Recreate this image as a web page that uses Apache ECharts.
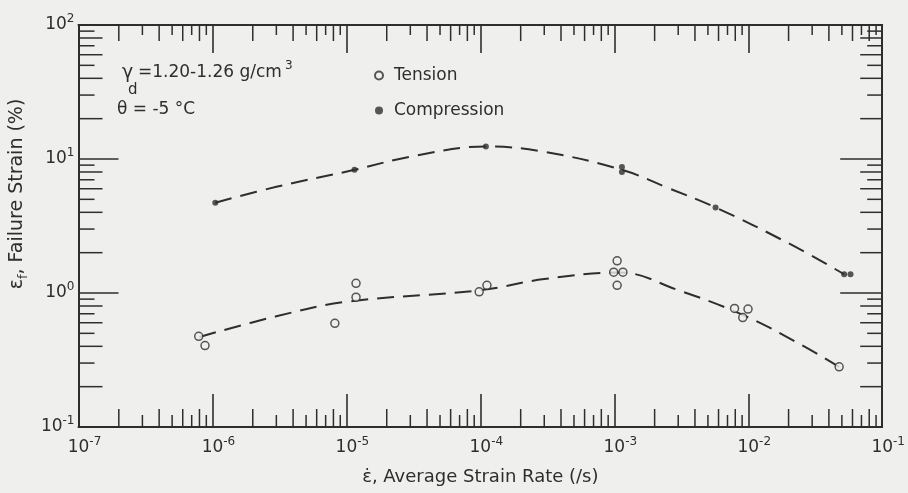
<!DOCTYPE html>
<html>
<head>
<meta charset="utf-8">
<script src="https://cdn.jsdelivr.net/npm/echarts@6/dist/echarts.min.js"></script>
<style>
html,body{margin:0;padding:0;background:#efefed;}
#chart{width:908px;height:493px;}
</style>
</head>
<body>
<div id="chart"></div>
<script>
// ---- data ----
const tensionX = [7.9e-7, 8.8e-7, 8.2e-6, 1.18e-5, 1.18e-5, 9.8e-5, 1.12e-4, 9.9e-4, 1.05e-3, 1.16e-3, 1.05e-3, 7.9e-3, 9.1e-3, 9.96e-3, 4.77e-2];
const tensionY = [0.475, 0.405, 0.594, 1.18, 0.93, 1.02, 1.14, 1.43, 1.74, 1.43, 1.14, 0.767, 0.655, 0.759, 0.281];

const compressionX = [1.05e-6, 1.15e-5, 1.1e-4, 1.14e-3, 1.14e-3, 5.7e-3, 5.2e-2, 5.8e-2];
const compressionY = [4.72, 8.3, 12.4, 8.7, 8.0, 4.35, 1.38, 1.38];

// dashed trend curves
const tensionCurveX = [8e-7, 3e-6, 1e-5, 1e-4, 3e-4, 1.1e-3, 3e-3, 9e-3, 2.5e-2, 4.77e-2];
const tensionCurveY = [0.47, 0.67, 0.86, 1.05, 1.27, 1.42, 1.05, 0.69, 0.41, 0.281];

const compressionCurveX = [1.05e-6, 3e-6, 1.15e-5, 3e-5, 1.1e-4, 3e-4, 1.14e-3, 2.5e-3, 5.7e-3, 2e-2, 5.2e-2];
const compressionCurveY = [4.72, 6.2, 8.3, 10.4, 12.4, 11.3, 8.3, 6.1, 4.35, 2.35, 1.38];

// axes
const X_MIN = 1e-7, X_MAX = 1e-1;
const Y_MIN = 1e-1, Y_MAX = 1e2;
const xDecades = [-7, -6, -5, -4, -3, -2];
const yDecades = [-1, 0, 1];
const minorMultipliers = [2, 3, 4, 5, 6, 7, 8, 9];

// ---- build ----
const BG = '#efefed';
const INK = '#2e2e2e';
const FONT = 'DejaVu Sans';

function pairs(xs, ys) { return xs.map((x, i) => [x, ys[i]]); }

const xMinor = [];
xDecades.forEach(d => minorMultipliers.forEach(m => xMinor.push([m * Math.pow(10, d), Y_MIN, m % 2 === 0 ? 1 : 0])));
const yMinor = [];
yDecades.forEach(d => minorMultipliers.forEach(m => yMinor.push([X_MIN, m * Math.pow(10, d), m % 2 === 0 ? 1 : 0])));

function powLabel(v) {
  const e = Math.round(Math.log10(v));
  return '{b|10}{s|' + e + '}';
}
const labelRich = {
  b: { fontFamily: FONT, fontSize: 17, color: INK, lineHeight: 24 },
  s: { fontFamily: FONT, fontSize: 12, color: INK, lineHeight: 12, padding: [0, 0, 12, 0] }
};

const chart = echarts.init(document.getElementById('chart'), null, { renderer: 'canvas' });

const option = {
  backgroundColor: BG,
  animation: false,
  grid: { left: 74, right: 25, top: 25, bottom: 66 },
  legend: {
    data: ['Tension', 'Compression'],
    orient: 'vertical',
    left: 369, top: 62,
    itemWidth: 8, itemHeight: 8, itemGap: 18,
    formatter: n => '{p|}' + n,
    textStyle: { fontFamily: FONT, fontSize: 17, color: INK, rich: { p: { width: 6 } } },
    selectedMode: false
  },
  xAxis: [{
    type: 'log', logBase: 10, min: X_MIN, max: X_MAX, position: 'bottom',
    axisLine: { lineStyle: { color: INK, width: 2 } },
    axisTick: { inside: true, length: 33, lineStyle: { color: INK, width: 1.6 } },
    splitLine: { show: false },
    axisLabel: { margin: 9, formatter: powLabel, rich: labelRich, padding: [0, 0, 0, 12] },
    name: '{e|ε\u0307}{t|, Average Strain Rate (/s)}',
    nameLocation: 'middle', nameGap: 41,
    nameTextStyle: { rich: { e: { fontFamily: FONT, fontSize: 18, color: INK }, t: { fontFamily: FONT, fontSize: 18, color: INK } } }
  }, {
    type: 'log', logBase: 10, min: X_MIN, max: X_MAX, position: 'top',
    axisLine: { lineStyle: { color: INK, width: 2 } },
    axisTick: { inside: true, length: 28, lineStyle: { color: INK, width: 1.6 } },
    splitLine: { show: false }, axisLabel: { show: false }
  }],
  yAxis: [{
    type: 'log', logBase: 10, min: Y_MIN, max: Y_MAX, position: 'left',
    axisLine: { lineStyle: { color: INK, width: 2 } },
    axisTick: { inside: true, length: 40, lineStyle: { color: INK, width: 1.6 } },
    splitLine: { show: false },
    axisLabel: { margin: 4, formatter: powLabel, rich: labelRich },
    name: '{e|ε}{f|f}{t|, Failure Strain (%)}',
    nameLocation: 'middle', nameGap: 45, nameRotate: 90,
    nameTextStyle: {
      padding: [0, 0, 0, 64],
      rich: {
        e: { fontFamily: FONT, fontSize: 19, color: INK },
        f: { fontFamily: FONT, fontSize: 13, color: INK, padding: [12, 0, 0, 0] },
        t: { fontFamily: FONT, fontSize: 19, color: INK }
      }
    }
  }, {
    type: 'log', logBase: 10, min: Y_MIN, max: Y_MAX, position: 'right',
    axisLine: { lineStyle: { color: INK, width: 2 } },
    axisTick: { inside: true, length: 42, lineStyle: { color: INK, width: 1.6 } },
    splitLine: { show: false }, axisLabel: { show: false }
  }],
  graphic: [
    { type: 'text', x: 122, y: 73, style: { text: 'γ', font: '19px "DejaVu Sans"', fill: INK, verticalAlign: 'middle' } },
    { type: 'text', x: 128, y: 90, style: { text: 'd', font: '15px "DejaVu Sans"', fill: INK, verticalAlign: 'middle' } },
    { type: 'text', x: 138, y: 73, style: { text: '=1.20-1.26 g/cm', font: '17px "DejaVu Sans"', fill: INK, verticalAlign: 'middle' } },
    { type: 'text', x: 285, y: 66, style: { text: '3', font: '12px "DejaVu Sans"', fill: INK, verticalAlign: 'middle' } },
    { type: 'text', x: 117, y: 110, style: { text: 'θ = -5 °C', font: '17px "DejaVu Sans"', fill: INK, verticalAlign: 'middle' } }
  ],
  series: [
    {
      type: 'custom', name: 'xminor', silent: true, clip: false, xAxisIndex: 0, yAxisIndex: 0,
      encode: { x: 0, y: 1 }, data: xMinor, z: 1,
      renderItem: function (params, api) {
        const v = api.value(0), k = api.value(2);
        const b = api.coord([v, Y_MIN]), t = api.coord([v, Y_MAX]);
        const lb = k ? 18 : 12, lt = k ? 16 : 10;
        const st = { stroke: INK, lineWidth: 1.5 };
        return { type: 'group', children: [
          { type: 'line', shape: { x1: b[0], y1: b[1], x2: b[0], y2: b[1] - lb }, style: st },
          { type: 'line', shape: { x1: t[0], y1: t[1], x2: t[0], y2: t[1] + lt }, style: st }
        ] };
      }
    },
    {
      type: 'custom', name: 'yminor', silent: true, clip: false, xAxisIndex: 0, yAxisIndex: 0,
      encode: { x: 0, y: 1 }, data: yMinor, z: 1,
      renderItem: function (params, api) {
        const v = api.value(1), k = api.value(2);
        const l = api.coord([X_MIN, v]), r = api.coord([X_MAX, v]);
        const ll = k ? 24 : 16, lr = k ? 22 : 15;
        const st = { stroke: INK, lineWidth: 1.5 };
        return { type: 'group', children: [
          { type: 'line', shape: { x1: l[0], y1: l[1], x2: l[0] + ll, y2: l[1] }, style: st },
          { type: 'line', shape: { x1: r[0], y1: r[1], x2: r[0] - lr, y2: r[1] }, style: st }
        ] };
      }
    },
    {
      type: 'line', name: 'tensionCurve', data: pairs(tensionCurveX, tensionCurveY),
      showSymbol: false, smooth: 0.4, silent: true, z: 2,
      lineStyle: { color: INK, width: 2, type: [17, 9] }
    },
    {
      type: 'line', name: 'compressionCurve', data: pairs(compressionCurveX, compressionCurveY),
      showSymbol: false, smooth: 0.4, silent: true, z: 2,
      lineStyle: { color: INK, width: 2, type: [17, 9] }
    },
    {
      type: 'scatter', name: 'Tension', data: pairs(tensionX, tensionY),
      symbol: 'circle', symbolSize: 8, z: 3,
      itemStyle: { color: BG, borderColor: INK, borderWidth: 1.5 }
    },
    {
      type: 'scatter', name: 'Compression', data: pairs(compressionX, compressionY),
      symbol: 'circle', symbolSize: 6, z: 3,
      itemStyle: { color: INK }
    }
  ]
};
chart.setOption(option);
</script>
</body>
</html>
